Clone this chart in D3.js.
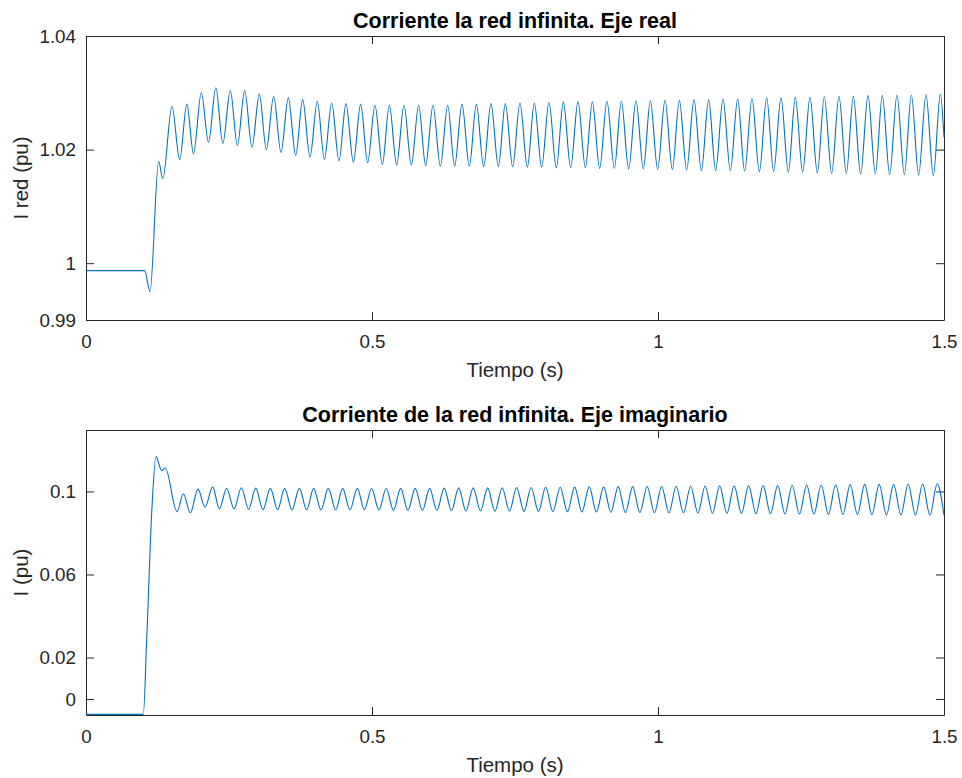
<!DOCTYPE html>
<html>
<head>
<meta charset="utf-8">
<script src="https://cdn.jsdelivr.net/npm/d3@7"></script>
<style>
  body { margin: 0; background: #fff; }
  svg { display: block; font-family: "Liberation Sans", Arial, Helvetica, sans-serif; }
  .axis path, .axis line { stroke: #262626; }
  .axis text { fill: #262626; font-size: 18.8px; }
</style>
</head>
<body>
<div id="chart"></div>
<script>
// Data (time in s, current in pu)
const xTicks = [0, 0.5, 1, 1.5];

const realTicks = [0.99, 1, 1.02, 1.04];
const realTime = [
  0, 0.1025, 0.1119, 0.1270, 0.1343, 0.1503, 0.1638, 0.1763, 0.1879, 0.2016,
  0.2142, 0.2270, 0.2392, 0.2523, 0.2646, 0.2774, 0.2902, 0.3030, 0.3153, 0.3281,
  0.3409, 0.3537, 0.3666, 0.3788, 0.3916, 0.4044, 0.4167, 0.4295, 0.4423, 0.4545,
  0.4674, 0.4802, 0.4924, 0.5052, 0.5181, 0.5303, 0.5431, 0.5559, 0.5688, 0.5816,
  0.5938, 0.6066, 0.6195, 0.6323, 0.6445, 0.6573, 0.6702, 0.6824, 0.6952, 0.7080,
  0.7209, 0.7331, 0.7459, 0.7587, 0.7716, 0.7838, 0.7966, 0.8094, 0.8223, 0.8345,
  0.8473, 0.8601, 0.8730, 0.8852, 0.8980, 0.9108, 0.9237, 0.9359, 0.9487, 0.9615,
  0.9744, 0.9866, 0.9994, 1.0122, 1.0251, 1.0373, 1.0501, 1.0629, 1.0758, 1.0886,
  1.1008, 1.1136, 1.1265, 1.1393, 1.1515, 1.1643, 1.1772, 1.1900, 1.2022, 1.2150,
  1.2279, 1.2401, 1.2529, 1.2657, 1.2786, 1.2908, 1.3036, 1.3164, 1.3293, 1.3415,
  1.3543, 1.3671, 1.3800, 1.3922, 1.4050, 1.4178, 1.4307, 1.4429, 1.4557, 1.4685,
  1.4814, 1.4936, 1.5
];
const realCurrent = [
  0.9987, 0.9987, 0.9950, 1.0179, 1.0149, 1.0276, 1.0182, 1.0280, 1.0193, 1.0300,
  1.0213, 1.0309, 1.0211, 1.0304, 1.0207, 1.0304, 1.0204, 1.0298, 1.0200, 1.0294,
  1.0195, 1.0291, 1.0190, 1.0288, 1.0187, 1.0285, 1.0183, 1.0282, 1.0180, 1.0281,
  1.0178, 1.0280, 1.0177, 1.0278, 1.0174, 1.0278, 1.0173, 1.0278, 1.0173, 1.0278,
  1.0172, 1.0278, 1.0171, 1.0278, 1.0171, 1.0280, 1.0171, 1.0280, 1.0170, 1.0281,
  1.0170, 1.0281, 1.0170, 1.0282, 1.0169, 1.0282, 1.0169, 1.0283, 1.0168, 1.0284,
  1.0168, 1.0284, 1.0168, 1.0284, 1.0167, 1.0285, 1.0167, 1.0285, 1.0166, 1.0286,
  1.0166, 1.0286, 1.0165, 1.0287, 1.0165, 1.0287, 1.0164, 1.0288, 1.0163, 1.0288,
  1.0163, 1.0289, 1.0163, 1.0289, 1.0162, 1.0290, 1.0161, 1.0291, 1.0161, 1.0291,
  1.0160, 1.0292, 1.0160, 1.0292, 1.0159, 1.0293, 1.0158, 1.0294, 1.0158, 1.0294,
  1.0157, 1.0295, 1.0157, 1.0295, 1.0156, 1.0296, 1.0156, 1.0296, 1.0155, 1.0297,
  1.0154, 1.0298, 1.0222
];

const imagTicks = [0, 0.02, 0.06, 0.1];
const imagTime = [
  0, 0.1002, 0.1061, 0.1154, 0.1224, 0.1323, 0.1387, 0.1591, 0.1702, 0.1824,
  0.1958, 0.2080, 0.2215, 0.2331, 0.2459, 0.2587, 0.2716, 0.2844, 0.2966, 0.3094,
  0.3222, 0.3351, 0.3473, 0.3601, 0.3730, 0.3858, 0.3980, 0.4108, 0.4237, 0.4365,
  0.4487, 0.4615, 0.4744, 0.4866, 0.4994, 0.5121, 0.5248, 0.5375, 0.5501, 0.5628,
  0.5755, 0.5882, 0.6008, 0.6135, 0.6262, 0.6389, 0.6515, 0.6642, 0.6769, 0.6896,
  0.7022, 0.7149, 0.7276, 0.7403, 0.7529, 0.7656, 0.7783, 0.7910, 0.8036, 0.8163,
  0.8290, 0.8417, 0.8543, 0.8670, 0.8797, 0.8924, 0.9050, 0.9177, 0.9304, 0.9431,
  0.9557, 0.9684, 0.9811, 0.9938, 1.0064, 1.0191, 1.0318, 1.0445, 1.0571, 1.0698,
  1.0825, 1.0952, 1.1078, 1.1205, 1.1332, 1.1459, 1.1585, 1.1712, 1.1839, 1.1966,
  1.2092, 1.2219, 1.2346, 1.2473, 1.2599, 1.2726, 1.2853, 1.2980, 1.3106, 1.3233,
  1.3360, 1.3487, 1.3613, 1.3740, 1.3867, 1.3994, 1.4120, 1.4247, 1.4374, 1.4501,
  1.4627, 1.4754, 1.4881, 1.5
];
const imagCurrent = [
  -0.0074, -0.0074, 0.0284, 0.0927, 0.1168, 0.1100, 0.1113, 0.0903, 0.0988, 0.0897,
  0.1011, 0.0924, 0.1022, 0.0916, 0.1015, 0.0916, 0.1018, 0.0914, 0.1016, 0.0912,
  0.1015, 0.0912, 0.1015, 0.0911, 0.1015, 0.0911, 0.1015, 0.0911, 0.1015, 0.0911,
  0.1015, 0.0911, 0.1015, 0.0911, 0.1014, 0.0910, 0.1014, 0.0909, 0.1015, 0.0909,
  0.1015, 0.0908, 0.1015, 0.0908, 0.1016, 0.0907, 0.1017, 0.0906, 0.1017, 0.0906,
  0.1017, 0.0905, 0.1018, 0.0905, 0.1019, 0.0904, 0.1019, 0.0903, 0.1020, 0.0903,
  0.1020, 0.0902, 0.1021, 0.0901, 0.1022, 0.0901, 0.1022, 0.0900, 0.1023, 0.0899,
  0.1023, 0.0899, 0.1024, 0.0898, 0.1024, 0.0897, 0.1025, 0.0897, 0.1025, 0.0896,
  0.1026, 0.0895, 0.1027, 0.0895, 0.1027, 0.0894, 0.1028, 0.0893, 0.1028, 0.0893,
  0.1029, 0.0892, 0.1030, 0.0891, 0.1031, 0.0891, 0.1031, 0.0890, 0.1032, 0.0889,
  0.1033, 0.0889, 0.1034, 0.0888, 0.1034, 0.0887, 0.1035, 0.0887, 0.1036, 0.0886,
  0.1036, 0.0885, 0.1037, 0.0886
];

const W = 962, H = 778;
const left = 86, right = 944;

const svg = d3.select("#chart")
  .append("svg")
    .attr("width", W)
    .attr("height", H);

// One MATLAB-style subplot
function drawPanel(p) {
  const x = d3.scaleLinear().domain([0, 1.5]).range([left, right]);
  const y = d3.scaleLinear().domain(p.yDomain).range([p.bottom, p.top]);
  const tickLen = 8;

  // bottom axis with labels
  svg.append("g")
    .attr("class", "axis")
    .attr("transform", `translate(0,${p.bottom})`)
    .call(d3.axisBottom(x).tickValues(xTicks).tickFormat(d => String(d))
      .tickSizeInner(-tickLen).tickSizeOuter(0).tickPadding(14.5));

  // top axis, ticks only
  svg.append("g")
    .attr("class", "axis")
    .attr("transform", `translate(0,${p.top})`)
    .call(d3.axisTop(x).tickValues(xTicks).tickFormat("")
      .tickSizeInner(-tickLen).tickSizeOuter(0));

  // left axis with labels
  svg.append("g")
    .attr("class", "axis")
    .attr("transform", `translate(${left},0)`)
    .call(d3.axisLeft(y).tickValues(p.yTicks).tickFormat(d => String(d))
      .tickSizeInner(-tickLen).tickSizeOuter(0).tickPadding(10));

  // right axis, ticks only
  svg.append("g")
    .attr("class", "axis")
    .attr("transform", `translate(${right},0)`)
    .call(d3.axisRight(y).tickValues(p.yTicks).tickFormat("")
      .tickSizeInner(-tickLen).tickSizeOuter(0));

  // the signal
  const pts = p.time.map((t, i) => [t, p.values[i]]);
  svg.append("path")
    .datum(pts)
    .attr("fill", "none")
    .attr("stroke", "#0072BD")
    .attr("stroke-width", 1.1)
    .attr("d", d3.line()
      .x(d => x(d[0]))
      .y(d => y(d[1]))
      .curve(d3.curveMonotoneX));

  // title
  svg.append("text")
    .attr("x", (left + right) / 2)
    .attr("y", p.top - 8)
    .attr("text-anchor", "middle")
    .style("font-size", "21.5px")
    .style("font-weight", "bold")
    .text(p.title);

  // x label
  svg.append("text")
    .attr("x", (left + right) / 2)
    .attr("y", p.bottom + 57)
    .attr("text-anchor", "middle")
    .style("font-size", "20.5px")
    .attr("fill", "#262626")
    .text("Tiempo (s)");

  // y label
  svg.append("text")
    .attr("transform", `translate(27.5,${(p.top + p.bottom) / 2})rotate(-90)`)
    .attr("text-anchor", "middle")
    .style("font-size", "20.5px")
    .attr("fill", "#262626")
    .text(p.yLabel);
}

drawPanel({
  top: 36, bottom: 320,
  yDomain: [0.99, 1.04], yTicks: realTicks,
  time: realTime, values: realCurrent,
  title: "Corriente la red infinita. Eje real",
  yLabel: "I red (pu)"
});

drawPanel({
  top: 430, bottom: 715,
  yDomain: [-0.0077, 0.1296], yTicks: imagTicks,
  time: imagTime, values: imagCurrent,
  title: "Corriente de la red infinita. Eje imaginario",
  yLabel: "I (pu)"
});
</script>
</body>
</html>
